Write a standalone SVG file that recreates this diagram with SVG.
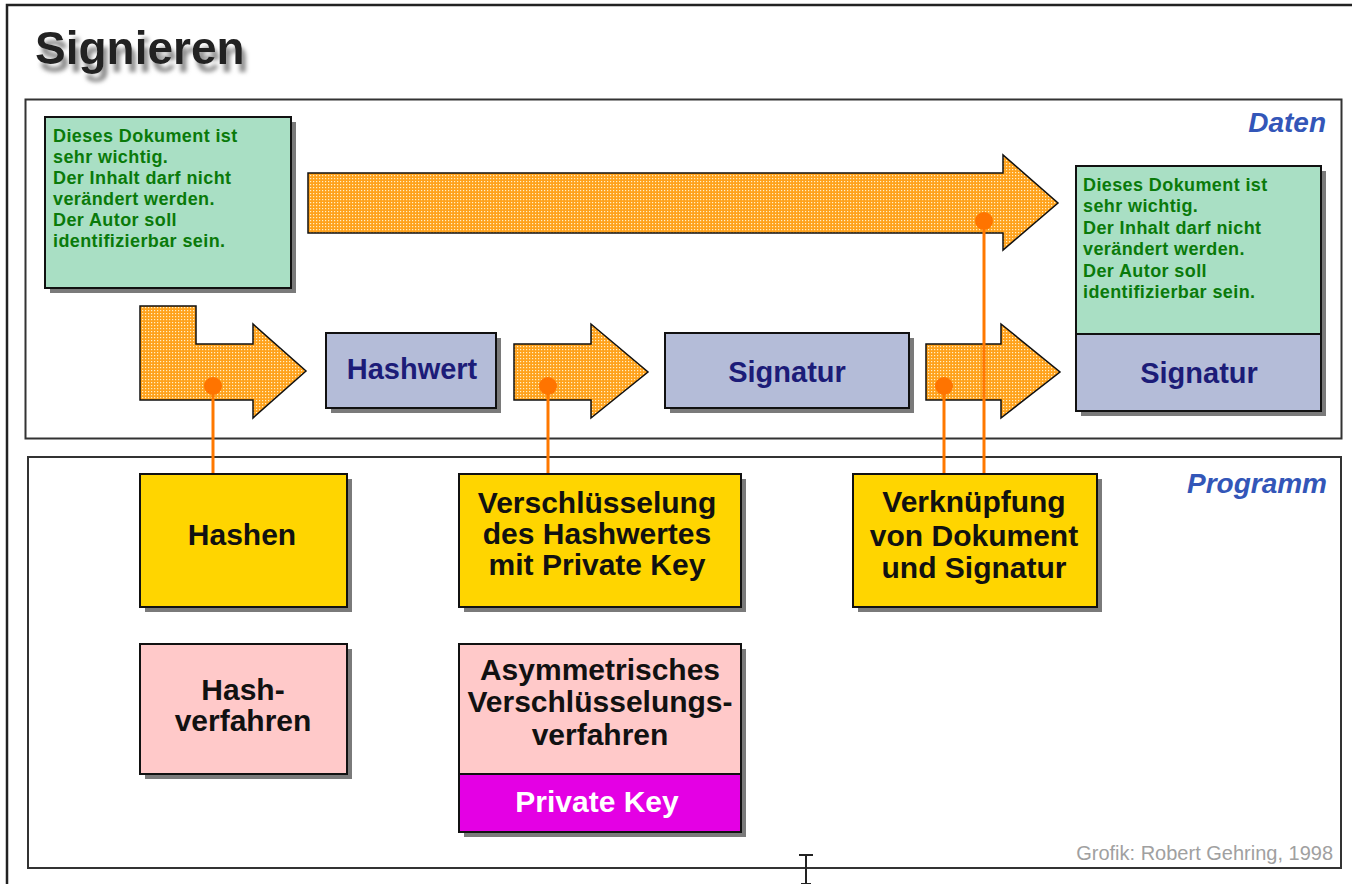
<svg xmlns="http://www.w3.org/2000/svg" width="1352" height="884" viewBox="0 0 1352 884">
<defs>
<pattern id="dots" width="3" height="3" patternUnits="userSpaceOnUse">
<rect width="3" height="3" fill="#ffa21c"/>
<rect x="1" y="1" width="1.2" height="1.2" fill="#fff0c8"/>
</pattern>
<filter id="tshadow" x="-10%" y="-30%" width="130%" height="180%">
<feGaussianBlur in="SourceAlpha" stdDeviation="2.2" result="b"/>
<feOffset in="b" dx="4" dy="8" result="o"/>
<feFlood flood-color="#8c8c8c" result="c"/>
<feComposite in="c" in2="o" operator="in" result="s"/>
<feMerge><feMergeNode in="s"/><feMergeNode in="SourceGraphic"/></feMerge>
</filter>
</defs>
<style>
.frame{fill:#fff;stroke:#333;stroke-width:2}
.shadow{fill:#7a7a7a}
.box{stroke:#111;stroke-width:2}
.doc{fill:#a9dfc4}
.hash{fill:#b4bcd8}
.yel{fill:#ffd500}
.pink{fill:#ffc9c9}
.mag{fill:#e400e4}
.arrow{fill:url(#dots);stroke:#111;stroke-width:1.5;stroke-linejoin:miter}
.doct{font-family:"Liberation Sans",Arial,sans-serif;font-weight:bold;font-size:18px;fill:#0a7a0a;letter-spacing:0.4px}
.navy{font-family:"Liberation Sans",Arial,sans-serif;font-weight:bold;font-size:29px;fill:#1c1c78;text-anchor:middle}
.big{font-family:"Liberation Sans",Arial,sans-serif;font-weight:bold;font-size:30px;fill:#111;text-anchor:middle}
.lbl{font-family:"Liberation Sans",Arial,sans-serif;font-weight:bold;font-style:italic;font-size:28px;fill:#3356b8;text-anchor:end}
.conn{stroke:#ff7800;stroke-width:3;fill:none}
.dot{fill:#ff7400}
</style>
<rect width="1352" height="884" fill="#fff"/>
<path d="M7,884 V5 H1352" fill="none" stroke="#222" stroke-width="2.5"/>
<g id="title">
<text x="35" y="64" font-family="Liberation Sans,Arial,sans-serif" font-weight="bold" font-size="46" fill="#222" filter="url(#tshadow)">Signieren</text>
</g>
<g id="panel-daten">
<rect class="frame" x="25.5" y="99.5" width="1316" height="339"/>
<text class="lbl" x="1326" y="132">Daten</text>
</g>
<g id="panel-programm">
<rect class="frame" x="28" y="457" width="1313" height="411"/>
<text class="lbl" x="1327" y="493">Programm</text>
</g>
<g id="doc-in">
<rect class="shadow" x="50" y="122" width="246" height="171"/>
<rect class="box doc" x="45" y="117" width="246" height="171"/>
<text class="doct" x="53" y="142">Dieses Dokument ist</text>
<text class="doct" x="53" y="163">sehr wichtig.</text>
<text class="doct" x="53" y="184">Der Inhalt darf nicht</text>
<text class="doct" x="53" y="205">verändert werden.</text>
<text class="doct" x="53" y="226">Der Autor soll</text>
<text class="doct" x="53" y="247">identifizierbar sein.</text>
</g>
<g id="arrow-long"><path class="arrow" d="M308,173 H1003 V155 L1058,203 L1003,250 V233 H308 Z"/></g>
<g id="arrow-hash"><path class="arrow" d="M140,306 H196 V344 H253 V324 L306,371 L253,418 V400 H140 Z"/></g>
<g id="hashwert">
<rect class="shadow" x="331" y="338" width="170" height="75"/>
<rect class="box hash" x="326" y="333" width="170" height="75"/>
<text class="navy" x="412" y="379">Hashwert</text>
</g>
<g id="arrow-sign"><path class="arrow" d="M514,344 H591 V324 L648,372 L591,418 V400 H514 Z"/></g>
<g id="signatur">
<rect class="shadow" x="670" y="338" width="244" height="75"/>
<rect class="box hash" x="665" y="333" width="244" height="75"/>
<text class="navy" x="787" y="382">Signatur</text>
</g>
<g id="arrow-link"><path class="arrow" d="M926,344 H1001 V324 L1060,372 L1001,418 V400 H926 Z"/></g>
<g id="doc-out">
<rect class="shadow" x="1081" y="171" width="245" height="245"/>
<rect class="box doc" x="1076" y="166" width="245" height="168"/>
<rect class="box hash" x="1076" y="334" width="245" height="77"/>
<text class="doct" x="1083" y="191">Dieses Dokument ist</text>
<text class="doct" x="1083" y="212">sehr wichtig.</text>
<text class="doct" x="1083" y="234">Der Inhalt darf nicht</text>
<text class="doct" x="1083" y="255">verändert werden.</text>
<text class="doct" x="1083" y="277">Der Autor soll</text>
<text class="doct" x="1083" y="298">identifizierbar sein.</text>
<text class="navy" x="1199" y="383">Signatur</text>
</g>
<g id="connectors">
<line class="conn" x1="213" y1="386" x2="213" y2="474"/>
<line class="conn" x1="548" y1="386" x2="548" y2="474"/>
<line class="conn" x1="944" y1="386" x2="944" y2="474"/>
<line class="conn" x1="984" y1="221" x2="984" y2="474"/>
<circle class="dot" cx="213" cy="386" r="9"/>
<circle class="dot" cx="548" cy="386" r="9"/>
<circle class="dot" cx="944" cy="386" r="9"/>
<circle class="dot" cx="984" cy="221" r="9"/>
</g>
<g id="hashen">
<rect class="shadow" x="145" y="479" width="207" height="133"/>
<rect class="box yel" x="140" y="474" width="207" height="133"/>
<text class="big" x="242" y="545">Hashen</text>
</g>
<g id="verschluesselung">
<rect class="shadow" x="464" y="479" width="282" height="133"/>
<rect class="box yel" x="459" y="474" width="282" height="133"/>
<text class="big" x="597" y="513">Verschlüsselung</text>
<text class="big" x="597" y="544">des Hashwertes</text>
<text class="big" x="597" y="575">mit Private Key</text>
</g>
<g id="verknuepfung">
<rect class="shadow" x="858" y="479" width="244" height="133"/>
<rect class="box yel" x="853" y="474" width="244" height="133"/>
<text class="big" x="974" y="512">Verknüpfung</text>
<text class="big" x="974" y="546">von Dokument</text>
<text class="big" x="974" y="578">und Signatur</text>
</g>
<g id="hashverfahren">
<rect class="shadow" x="145" y="649" width="207" height="130"/>
<rect class="box pink" x="140" y="644" width="207" height="130"/>
<text class="big" x="243" y="700">Hash-</text>
<text class="big" x="243" y="731">verfahren</text>
</g>
<g id="asymmetrisch">
<rect class="shadow" x="464" y="649" width="282" height="188"/>
<rect class="box pink" x="459" y="644" width="282" height="130"/>
<rect class="box mag" x="459" y="774" width="282" height="58"/>
<text class="big" x="600" y="680">Asymmetrisches</text>
<text class="big" x="600" y="712">Verschlüsselungs-</text>
<text class="big" x="600" y="745">verfahren</text>
<text class="big" x="597" y="812" style="fill:#fff">Private Key</text>
</g>
<text x="1333" y="860" text-anchor="end" font-family="Liberation Sans,Arial,sans-serif" font-size="20" fill="#a0a0a0">Grofik: Robert Gehring, 1998</text>
<g id="cursor" stroke="#222" stroke-width="2" fill="none">
<path d="M799,855 H813 M806,855 V884 M801,884 H811"/>
</g>
</svg>
